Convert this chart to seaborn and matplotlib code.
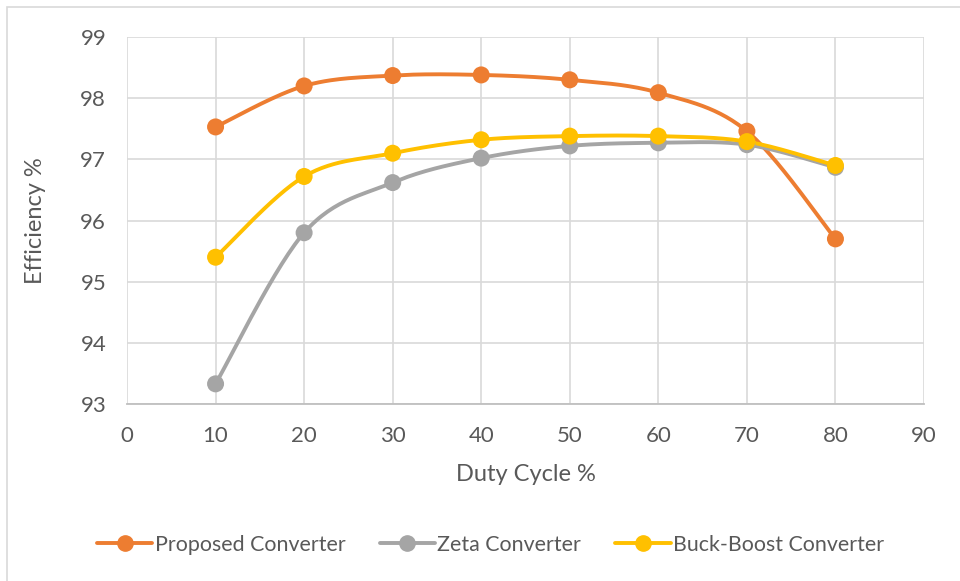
import numpy as np
import pandas as pd
import matplotlib
matplotlib.use("Agg")
import matplotlib.pyplot as plt
import seaborn as sns
from matplotlib.lines import Line2D
from matplotlib.patches import Rectangle

duty = [10, 20, 30, 40, 50, 60, 70, 80]
proposed = [97.53, 98.20, 98.37, 98.38, 98.30, 98.09, 97.46, 95.70]
zeta = [93.33, 95.80, 96.62, 97.02, 97.22, 97.27, 97.24, 96.87]
buck_boost = [95.40, 96.72, 97.10, 97.32, 97.38, 97.38, 97.29, 96.90]
series_names = ["Proposed Converter", "Zeta Converter", "Buck-Boost Converter"]
colors = ["#ED7D31", "#A5A5A5", "#FFC000"]
x_ticks = [0, 10, 20, 30, 40, 50, 60, 70, 80, 90]
y_ticks = [93, 94, 95, 96, 97, 98, 99]


def smooth(x, y, n=30):
    # Excel-like smoothed line: cubic Bezier with Catmull-Rom control points
    x = np.asarray(x, float)
    y = np.asarray(y, float)
    P = np.column_stack([x, y])
    out = []
    for i in range(len(P) - 1):
        p0 = P[i - 1] if i > 0 else P[i]
        p1 = P[i]
        p2 = P[i + 1]
        p3 = P[i + 2] if i + 2 < len(P) else P[i + 1]
        c1 = p1 + (p2 - p0) / 6.0
        c2 = p2 - (p3 - p1) / 6.0
        t = np.linspace(0, 1, n, endpoint=(i == len(P) - 2))[:, None]
        b = ((1 - t) ** 3) * p1 + 3 * ((1 - t) ** 2) * t * c1 + 3 * (1 - t) * t ** 2 * c2 + t ** 3 * p2
        out.append(b)
    out = np.vstack(out)
    return out[:, 0], out[:, 1]


sns.set_theme(style="white")
plt.rcParams["font.family"] = ["Lato", "DejaVu Sans"]

fig = plt.figure(figsize=(9.6, 5.81), dpi=100)
fig.patch.set_facecolor("white")
# outer chart border (top and left visible, rest cropped)
fig.add_artist(Rectangle((6.5 / 960, -0.05), 1.1, 1 - 7.5 / 581 + 0.05, transform=fig.transFigure,
                         facecolor="none", edgecolor="#D9D9D9", linewidth=1.2))

ax = fig.add_axes([0.1323, 0.3046, 0.8302, 0.6317])

rows_s = []
rows_p = []
for name, vals in zip(series_names, [proposed, zeta, buck_boost]):
    sx, sy = smooth(duty, vals)
    for a, b in zip(sx, sy):
        rows_s.append({"x": a, "y": b, "s": name})
    for a, b in zip(duty, vals):
        rows_p.append({"x": a, "y": b, "s": name})
df_s = pd.DataFrame(rows_s)
df_p = pd.DataFrame(rows_p)
pal = dict(zip(series_names, colors))

sns.lineplot(data=df_s, x="x", y="y", hue="s", palette=pal, sort=False,
             estimator=None, linewidth=2.8, ax=ax, legend=False)
sns.scatterplot(data=df_p, x="x", y="y", hue="s", palette=pal, s=150,
                edgecolor="none", ax=ax, legend=False, zorder=5)

ax.set_xlim(0, 90)
ax.set_ylim(93, 99)
ax.set_xticks(x_ticks)
ax.set_yticks(y_ticks)
ax.grid(True, color="#D9D9D9", linewidth=1.2)
ax.set_axisbelow(True)
for s in ["top", "right", "left"]:
    ax.spines[s].set_visible(False)
ax.spines["bottom"].set_color("#BFBFBF")
ax.spines["bottom"].set_linewidth(1.3)
ax.tick_params(axis="both", length=0, labelsize=16, labelcolor="#595959")
ax.tick_params(axis="x", pad=16)
ax.tick_params(axis="y", pad=15)
ax.set_xlabel("Duty Cycle %", fontsize=17, color="#595959", labelpad=13)
ax.set_ylabel("Efficiency %", fontsize=17, color="#595959", labelpad=25)

handles = [Line2D([0], [0], color=c, lw=2.8, marker="o", markersize=11) for c in colors]
fig.legend(handles, series_names, loc="center", bbox_to_anchor=(0.511, 0.062), ncol=3,
           frameon=False, fontsize=15.4, handlelength=2.6, handletextpad=0.1,
           columnspacing=1.6, labelcolor="#595959")

fig.savefig("out.png", dpi=100, facecolor="white")
